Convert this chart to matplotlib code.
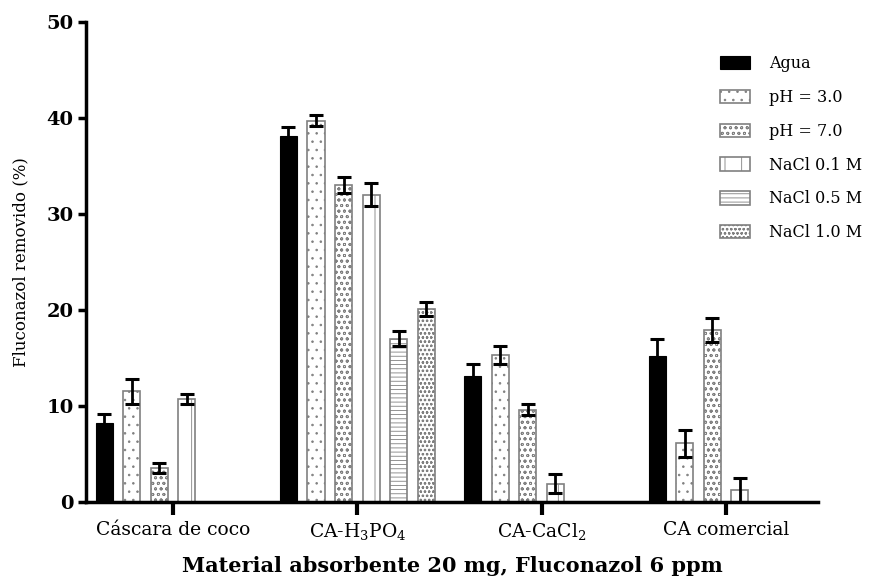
import matplotlib
matplotlib.use("Agg")
import matplotlib.pyplot as plt
import numpy as np

# data
groups = ["Cáscara de coco", "CA-H$_3$PO$_4$", "CA-CaCl$_2$", "CA comercial"]
series = ["Agua", "pH = 3.0", "pH = 7.0", "NaCl 0.1 M", "NaCl 0.5 M", "NaCl 1.0 M"]
agua = [8.2, 38.1, 13.1, 15.2]
agua_err = [0.9, 0.9, 1.3, 1.8]
ph3 = [11.5, 39.7, 15.3, 6.1]
ph3_err = [1.3, 0.6, 0.9, 1.4]
ph7 = [3.5, 33.0, 9.6, 17.9]
ph7_err = [0.5, 0.8, 0.6, 1.3]
nacl01 = [10.7, 32.0, 1.9, 1.2]
nacl01_err = [0.5, 1.2, 1.0, 1.3]
nacl05 = [np.nan, 17.0, np.nan, np.nan]
nacl05_err = [np.nan, 0.8, np.nan, np.nan]
nacl10 = [np.nan, 20.1, np.nan, np.nan]
nacl10_err = [np.nan, 0.7, np.nan, np.nan]

values = [agua, ph3, ph7, nacl01, nacl05, nacl10]
errors = [agua_err, ph3_err, ph7_err, nacl01_err, nacl05_err, nacl10_err]
hatches = [None, "..", "ooo", "|", "----", "oooo"]

plt.rcParams['font.family'] = ['DejaVu Serif']
plt.rcParams['hatch.linewidth'] = 0.6
plt.rcParams['mathtext.fontset'] = 'dejavuserif'

fig = plt.figure(figsize=(8.76, 5.87), dpi=100)
ax = fig.add_axes((0.098, 0.145, 0.836, 0.818))

x = np.arange(len(groups))
step = 0.1495
width = 0.093
handles = []
for i, (vals, errs, h) in enumerate(zip(values, errors, hatches)):
    vals = np.array(vals, dtype=float)
    errs = np.array(errs, dtype=float)
    ok = ~np.isnan(vals)
    pos = x + (i - 2.5) * step
    if h is None:
        b = ax.bar(pos[ok], vals[ok], width, color='black', edgecolor='black', lw=0.8)
    else:
        b = ax.bar(pos[ok], vals[ok], width, color='white', edgecolor='#808080',
                   hatch=h, lw=1.2)
    ax.errorbar(pos[ok], vals[ok], yerr=errs[ok], fmt='none', ecolor='black',
                elinewidth=2, capsize=5, capthick=2.2)
    handles.append(b)

ax.set_xlim(-0.473, 3.5)
ax.set_ylim(0, 50)
ax.set_yticks([0, 10, 20, 30, 40, 50])
ax.set_xticks(x)
ax.set_xticklabels(groups, fontsize=13.5)
for lab in ax.get_yticklabels():
    lab.set_fontweight('bold')
    lab.set_fontsize(14)
ax.spines['top'].set_visible(False)
ax.spines['right'].set_visible(False)
ax.spines['left'].set_linewidth(2.5)
ax.spines['bottom'].set_linewidth(2.5)
ax.tick_params(axis='y', width=2.5, length=6, pad=3)
ax.tick_params(axis='x', width=3, length=9, pad=5)

ax.set_ylabel("Fluconazol removido (%)", fontsize=12, labelpad=12)
ax.set_xlabel("Material absorbente 20 mg, Fluconazol 6 ppm", fontsize=15,
              fontweight='bold', labelpad=10)

ax.legend(handles, series, loc='upper right', bbox_to_anchor=(1.08, 0.96),
          frameon=False, fontsize=11.5, handlelength=1.9, handleheight=0.9,
          labelspacing=1.05, handletextpad=1.2)

fig.savefig("out.png", dpi=100)
